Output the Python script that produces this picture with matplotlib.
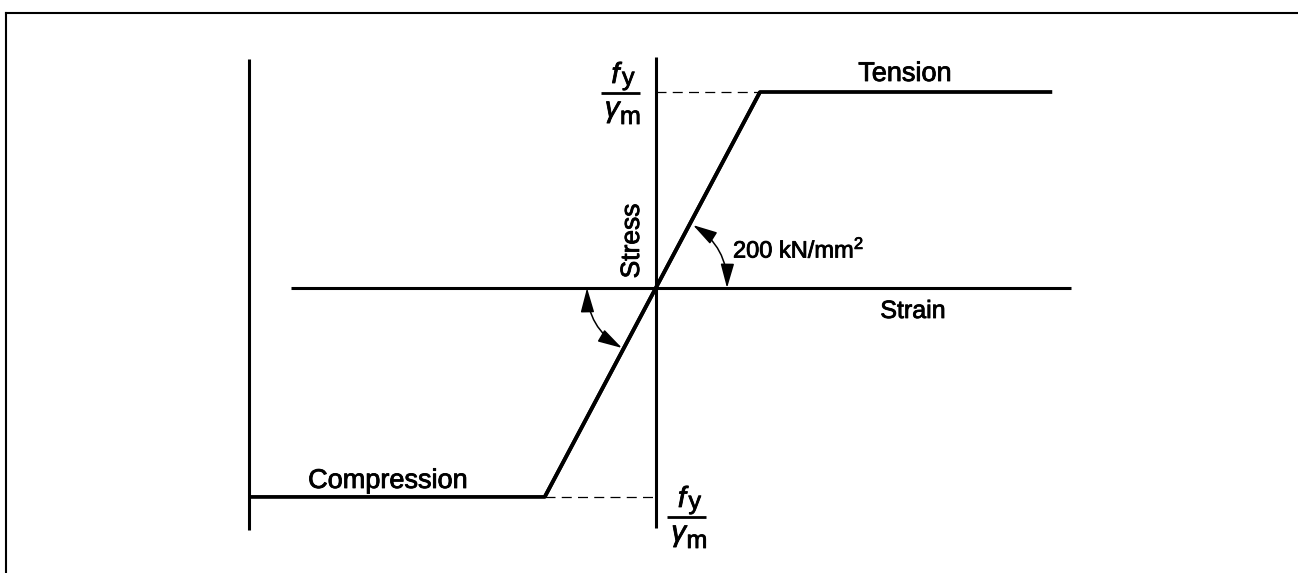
import matplotlib
matplotlib.use("Agg")
import matplotlib.pyplot as plt
from matplotlib.patches import FancyArrowPatch
from matplotlib.lines import Line2D
import matplotlib.patheffects as pe

plt.rcParams['font.family'] = ['Liberation Sans', 'DejaVu Sans']
plt.rcParams['mathtext.fontset'] = 'custom'
plt.rcParams['mathtext.rm'] = 'Liberation Sans'
plt.rcParams['mathtext.it'] = 'Liberation Sans:italic'

# ---- data (normalised: yield strain = 1, fy/gamma_m = 1) ----
elastic_strain = [-1.07, 1.0]
elastic_stress = [-1.066, 1.0]
tension_strain = [1.0, 3.81]
tension_stress = [1.0, 1.0]
compression_strain = [-3.91, -1.07]
compression_stress = [-1.066, -1.066]
dash_top_strain = [0.0, 1.0]
dash_top_stress = [1.0, 1.0]
dash_bot_strain = [-1.07, 0.0]
dash_bot_stress = [-1.066, -1.066]
strain_axis_x = [-3.51, 3.99]
stress_axis_y = [-1.225, 1.179]
left_line_x = -3.91
left_line_y = [-1.235, 1.168]
labels = ["Tension", "Compression", "Strain", "Stress", "200 kN/mm$^2$"]

fig = plt.figure(figsize=(12.98, 5.73), dpi=100)
ax = fig.add_axes([0, 0, 1, 1])
ax.set_xlim(-6.3077, 6.1731)
ax.set_ylim(-1.4541, 1.4694)
ax.axis('off')

def px(x):
    return (x - 656) / 104.0

def py(y):
    return (288 - y) / 196.0

k = 'black'
lw_axis = 2.2
lw_curve = 2.7
ax.plot(strain_axis_x, [0, 0], color=k, lw=lw_axis, solid_capstyle='butt')
ax.plot([0, 0], stress_axis_y, color=k, lw=lw_axis, solid_capstyle='butt')
ax.plot([left_line_x, left_line_x], left_line_y, color=k, lw=lw_axis, solid_capstyle='butt')
ax.plot(compression_strain + elastic_strain[1:], compression_stress + elastic_stress[1:],
        color=k, lw=lw_curve, solid_capstyle='butt')
ax.plot(elastic_strain + tension_strain[1:], elastic_stress + tension_stress[1:],
        color=k, lw=lw_curve, solid_capstyle='butt')
ax.plot(dash_top_strain, dash_top_stress, color=k, lw=0.9, dashes=(8, 5))
ax.plot(dash_bot_strain, dash_bot_stress, color=k, lw=0.9, dashes=(8, 5))

for p1, p2 in [((0.683, 0.0), (0.356, 0.321)), ((-0.663, 0.0), (-0.327, -0.306))]:
    arr = FancyArrowPatch(p1, p2, connectionstyle="arc3,rad=0.28",
                          arrowstyle="<|-|>,head_length=1.15,head_width=0.32",
                          mutation_scale=13, lw=1.1, color=k,
                          shrinkA=0, shrinkB=0)
    ax.add_patch(arr)

heavy = [pe.withStroke(linewidth=0.6, foreground=k)]
ax.text(px(905), py(81), labels[0], fontsize=19.5, ha='center', va='baseline', path_effects=heavy)
ax.text(px(388), py(488), labels[1], fontsize=19.5, ha='center', va='baseline', path_effects=heavy)
ax.text(px(913), py(311), labels[2], fontsize=18, ha='center', va='center', path_effects=heavy)
ax.text(px(632), py(241), labels[3], fontsize=19, ha='center', va='center', rotation=90,
        path_effects=heavy)
ax.text(px(733), py(250), labels[4], fontsize=17, ha='left', va='center', path_effects=heavy)

def fraction(cx, bar_y):
    ax.plot([px(cx - 19.5), px(cx + 19.5)], [py(bar_y), py(bar_y)], color=k, lw=2.0,
            solid_capstyle='butt')
    ax.text(px(cx - 1), py(bar_y - 10), 'f', fontsize=21, style='italic', ha='right',
            va='baseline', path_effects=heavy)
    ax.text(px(cx + 1.5), py(bar_y - 8), 'y', fontsize=18, ha='left', va='baseline',
            path_effects=heavy)
    ax.text(px(cx - 1), py(bar_y + 24), '\u03b3', fontsize=21, style='italic', ha='right',
            va='baseline', path_effects=heavy)
    ax.text(px(cx - 0.5), py(bar_y + 31), 'm', fontsize=18, ha='left', va='baseline',
            path_effects=heavy)

fraction(620.5, 93)
fraction(687, 517)

fig.add_artist(Line2D([5.5/1298, 1.0], [1 - 12.5/573, 1 - 12.5/573], color=k, lw=1.5))
fig.add_artist(Line2D([5.5/1298, 5.5/1298], [0, 1 - 12.5/573], color=k, lw=1.5))

fig.savefig("out.png", dpi=100)
